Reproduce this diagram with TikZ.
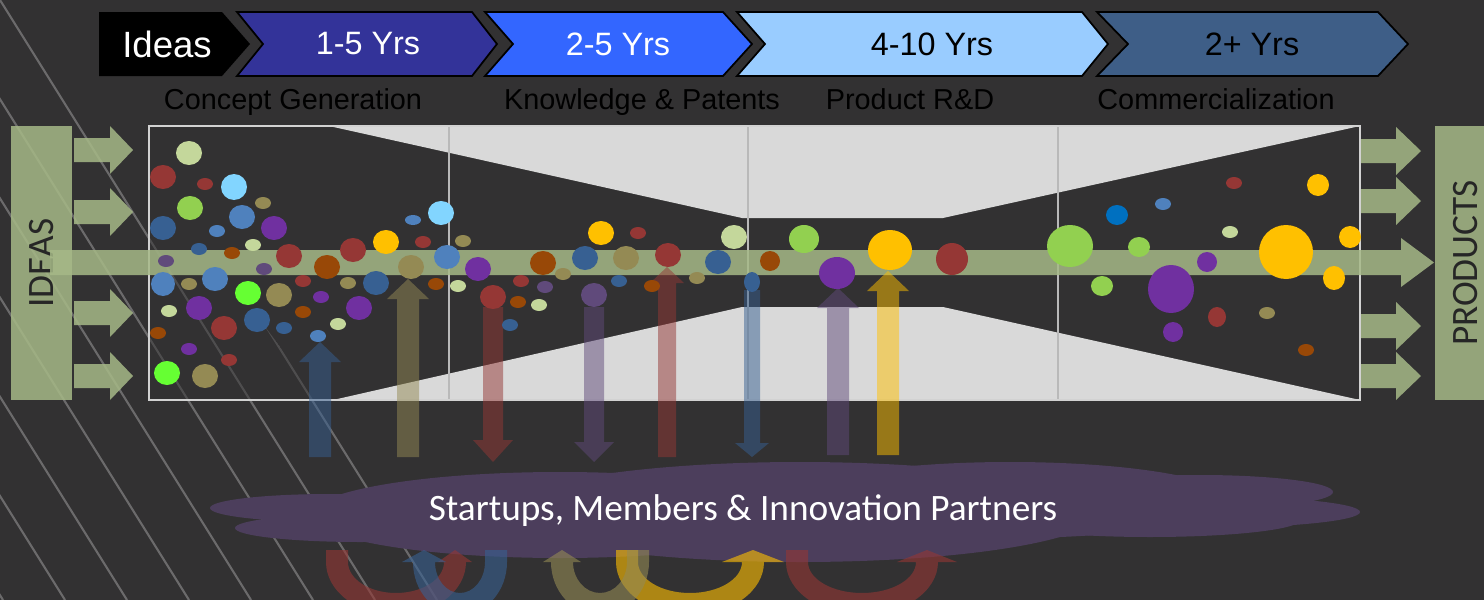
\documentclass[tikz,border=0pt]{standalone}
\usepackage{fontspec}
\setmainfont{Liberation Sans}
\newfontfamily\calfont{Carlito}
\usetikzlibrary{positioning}
\definecolor{bgdark}{RGB}{50,49,50}
\definecolor{stgA}{RGB}{51,51,153}
\definecolor{stgB}{RGB}{51,102,255}
\definecolor{stgC}{RGB}{153,204,255}
\definecolor{stgD}{RGB}{62,94,135}
\definecolor{sage}{RGB}{166,185,135}
\definecolor{boxgray}{RGB}{217,217,217}
\definecolor{cloudc}{RGB}{76,62,92}
\definecolor{bPale}{RGB}{196,215,155}
\definecolor{bRed}{RGB}{149,55,53}
\definecolor{bSky}{RGB}{130,213,255}
\definecolor{bGreen}{RGB}{146,208,80}
\definecolor{bBlue}{RGB}{79,129,189}
\definecolor{bDark}{RGB}{55,96,146}
\definecolor{bPurp}{RGB}{112,48,160}
\definecolor{bOlive}{RGB}{148,138,84}
\definecolor{bBrown}{RGB}{152,72,7}
\definecolor{bLime}{RGB}{102,255,51}
\definecolor{bGold}{RGB}{255,192,0}
\definecolor{bMauve}{RGB}{96,74,123}
\definecolor{bCobalt}{RGB}{0,112,192}
\tikzset{
	stg_box/.style = {draw=black, line width=0.5pt},% chevron of a stage
	stg_txt/.style = {inner sep=0pt, font=\fontsize{9.2pt}{11pt}\selectfont},% years in a chevron
	sub_txt/.style = {inner sep=0pt, anchor=base, text=black, font=\fontsize{8.2pt}{10pt}\selectfont},% stage name
	side_box/.style = {fill=sage, fill opacity=.85, text opacity=1, rotate=90,
		minimum width=2.74cm, minimum height=0.61cm, inner sep=0pt, text=black!85,
		font=\calfont\fontsize{10.6pt}{12pt}\selectfont},% IDEAS / PRODUCTS
	side_arr/.style = {fill=sage, fill opacity=.85},% short green arrows
	stripe/.style = {draw=white, draw opacity=.28, line width=0.6pt},% backdrop lines
	cloud_txt/.style = {inner sep=0pt, text=white,
		font=\calfont\fontsize{10.6pt}{12pt}\selectfont}
}
\begin{document}
\begin{tikzpicture}[x=0.01cm, y=-0.01cm]
\useasboundingbox (0,0) rectangle (1484,600);
\fill[bgdark] (0,0) rectangle (1484,600);
% backdrop stripes
\begin{scope}
	\clip (0,0) -- (20,0) -- (470,600) -- (0,600) -- cycle;
	\foreach \k in {0,...,7}
		\draw[stripe] ({-372+62*\k},0) -- ({3+62*\k},600);
\end{scope}

% stages on top
\fill[black] (99,12) -- (222,12) -- (250,44) -- (222,76) -- (99,76) -- cycle;
\node[stg_txt, text=white, font=\fontsize{10.4pt}{12pt}\selectfont] (ideas) at (167,44) {Ideas};
\foreach \xa/\xn/\xb/\xt/\col/\tx/\tc/\nm/\lbl in {
		237/263/472/497/stgA/368/white/yrsA/1-5 Yrs,
		485/513/723/752/stgB/618/white/yrsB/2-5 Yrs,
		737/765/1082/1108/stgC/932/black/yrsC/4-10 Yrs,
		1097/1128/1378/1408/stgD/1252/black/yrsD/2+ Yrs}{
	\filldraw[stg_box, fill=\col] (\xa,12) -- (\xb,12) -- (\xt,44) -- (\xb,76) -- (\xa,76) -- (\xn,44) -- cycle;
	\node[stg_txt, text=\tc] (\nm) at (\tx,44) {\lbl};
}
\node[sub_txt] (concept) at (293,110) {Concept Generation};
\node[sub_txt] (knowledge) at (642,110) {Knowledge \& Patents};
\node[sub_txt] (rnd) at (910,110) {Product R\&D};
\node[sub_txt] (commerce) at (1216,110) {Commercialization};

% ideas in, products out
\node[side_box] (ideasbox) at (41.5,263) {IDEAS};
\node[side_box] (productsbox) at (1466,263) {PRODUCTS};
\foreach \y in {150,212,313,376}
	\fill[side_arr] (74,{\y-12}) -- (110,{\y-12}) -- (110,{\y-24}) -- (133,\y) -- (110,{\y+24}) -- (110,{\y+12}) -- (74,{\y+12}) -- cycle;
\foreach \y in {151,201,326,376}
	\fill[side_arr] (1361,{\y-12}) -- (1396,{\y-12}) -- (1396,{\y-24}) -- (1421,\y) -- (1396,{\y+24}) -- (1396,{\y+12}) -- (1361,{\y+12}) -- cycle;

% funnel
\fill[bgdark, fill opacity=.5] (149,126) rectangle (1360,400);
\fill[boxgray] (329,126) -- (1360,126) -- (943,218) -- (742,218) -- cycle;
\fill[boxgray] (333,400) -- (742,307) -- (943,307) -- (1360,400) -- cycle;
\foreach \x in {449,748,1058}
	\draw[gray!55, line width=0.4pt] (\x,126) -- (\x,400);
\draw[gray!35, line width=0.6pt] (149,126) rectangle (1360,400);

% main stream
\fill[side_arr] (50,250) -- (1401,250) -- (1401,238) -- (1434,262.5) -- (1401,287) -- (1401,275) -- (50,275) -- cycle;

% exchanges with partners
\foreach \x/\ys/\yt/\l/\w/\h/\c in {
		320/457/342/20/11/21/bDark, 408/457/279/20/11/21/bOlive,
		493/307/462/-22/10/20/bRed, 594/307/462/-20/10/20/bMauve,
		667/457/267/16/9/17/bRed, 752/290/457/-14/8/17/bDark,
		838/455/288/20/11/21/bMauve, 888/455/271/20/11/21/bGold}
	\fill[\c, fill opacity=.5] ({\x-\w},\ys) -- ({\x-\w},{\yt+\l}) -- ({\x-\h},{\yt+\l}) -- (\x,\yt)
		-- ({\x+\h},{\yt+\l}) -- ({\x+\w},{\yt+\l}) -- ({\x+\w},\ys) -- cycle;

% bubbles
\foreach \x/\y/\a/\b/\c in {
		189/153/13/12/bPale, 163/177/13/12/bRed, 205/184/8/6/bRed, 234/187/13/13/bSky,
		190/208/13/12/bGreen, 263/203/8/6/bOlive, 242/217/13/12/bBlue, 163/228/13/12/bDark,
		217/231/8/6/bBlue, 274/228/13/12/bPurp, 253/245/8/6/bPale, 199/249/8/6/bDark,
		232/253/8/6/bBrown, 166/261/8/6/bMauve, 289/256/13/12/bRed, 264/269/8/6/bMauve,
		327/267/13/12/bBrown, 353/250/13/12/bRed, 386/242/13/12/bGold, 413/220/8/5/bBlue,
		441/213/13/12/bSky, 423/242/8/6/bRed, 411/267/13/12/bOlive, 463/241/8/6/bOlive,
		447/257/13/12/bBlue, 478/269/13/12/bPurp, 163/284/12/12/bBlue, 189/284/8/6/bOlive,
		215/279/13/12/bBlue, 248/293/13/12/bLime, 279/295/13/12/bOlive, 303/281/8/6/bRed,
		348/283/8/6/bOlive, 376/283/13/12/bDark, 436/284/8/6/bBrown, 458/286/8/6/bPale,
		169/311/8/6/bPale, 199/308/13/12/bPurp, 321/297/8/6/bPurp, 303/312/8/6/bBrown,
		359/308/13/12/bPurp, 224/328/13/12/bRed, 257/320/13/12/bDark, 284/328/8/6/bDark,
		338/324/8/6/bPale, 158/333/8/6/bBrown, 318/336/8/6/bBlue, 189/349/8/6/bPurp,
		229/360/8/6/bRed, 167/373/13/12/bLime, 205/376/13/12/bOlive, 493/297/13/12/bRed,
		543/263/13/12/bBrown, 563/274/8/6/bOlive, 521/281/8/6/bRed, 545/287/8/6/bMauve,
		518/302/8/6/bBrown, 539/305/8/6/bPale, 510/325/8/6/bDark, 601/233/13/12/bGold,
		585/258/13/12/bDark, 626/258/13/12/bOlive, 638/233/8/6/bRed, 668/255/13/12/bRed,
		619/281/8/6/bDark, 652/286/8/6/bBrown, 594/295/13/12/bMauve, 734/237/13/12/bPale,
		718/262/13/12/bDark, 697/278/8/6/bOlive, 752/282/8/10/bDark, 770/261/10/10/bBrown,
		804/239/15/14/bGreen, 837/273/18/16/bPurp, 890/250/22/20/bGold, 952/259/16/16/bRed,
		1070/246/23/21/bGreen, 1117/215/11/10/bCobalt, 1163/204/8/6/bBlue, 1234/183/8/6/bRed,
		1318/185/11/11/bGold, 1139/247/11/10/bGreen, 1230/232/8/6/bPale, 1286/252/27/27/bGold,
		1350/237/11/11/bGold, 1207/262/10/10/bPurp, 1334/278/11/12/bGold, 1102/286/11/10/bGreen,
		1171/289/23/24/bPurp, 1217/317/9/10/bRed, 1267/313/8/6/bOlive, 1173/332/10/10/bPurp,
		1306/350/8/6/bBrown}
	\fill[\c] (\x,\y) ellipse[x radius=\a, y radius=\b];

% partners cloud
\foreach \x/\y/\a/\b in {330/508/120/14, 360/528/125/14, 560/515/250/43, 800/512/300/50,
		1010/500/220/38, 1200/492/133/17, 1200/512/160/16, 1150/520/150/17}
	\fill[cloudc] (\x,\y) ellipse[x radius=\a, y radius=\b];
\node[cloud_txt] (partners) at (743,511) {Startups, Members \& Innovation Partners};

% loops below the cloud, head on the right
\foreach \cx/\rx/\h/\c in {396/59/17/bRed, 690/63/31/bGold, 862/65/30/bRed}{
	\pgfmathsetmacro\ro{\rx+11}
	\pgfmathsetmacro\ri{\rx-11}
	\fill[\c, fill opacity=.6] ({\cx-\rx-11},550) -- ({\cx-\rx-11},562)
		arc[start angle=180, end angle=0, x radius=\ro, y radius=53]
		-- ({\cx+\rx+\h},562) -- ({\cx+\rx},550) -- ({\cx+\rx-\h},562) -- ({\cx+\rx-11},562)
		arc[start angle=0, end angle=180, x radius=\ri, y radius=31]
		-- ({\cx-\rx+11},550) -- cycle;
}
% loops below the cloud, head on the left
\foreach \cx/\rx/\h/\c in {460/36/22/bDark, 600/38/19/bOlive}{
	\pgfmathsetmacro\ro{\rx+11}
	\pgfmathsetmacro\ri{\rx-11}
	\fill[\c, fill opacity=.6] ({\cx+\rx+11},550) -- ({\cx+\rx+11},562)
		arc[start angle=0, end angle=180, x radius=\ro, y radius=53]
		-- ({\cx-\rx-\h},562) -- ({\cx-\rx},550) -- ({\cx-\rx+\h},562) -- ({\cx-\rx+11},562)
		arc[start angle=180, end angle=0, x radius=\ri, y radius=31]
		-- ({\cx+\rx-11},550) -- cycle;
}
\end{tikzpicture}
\end{document}
